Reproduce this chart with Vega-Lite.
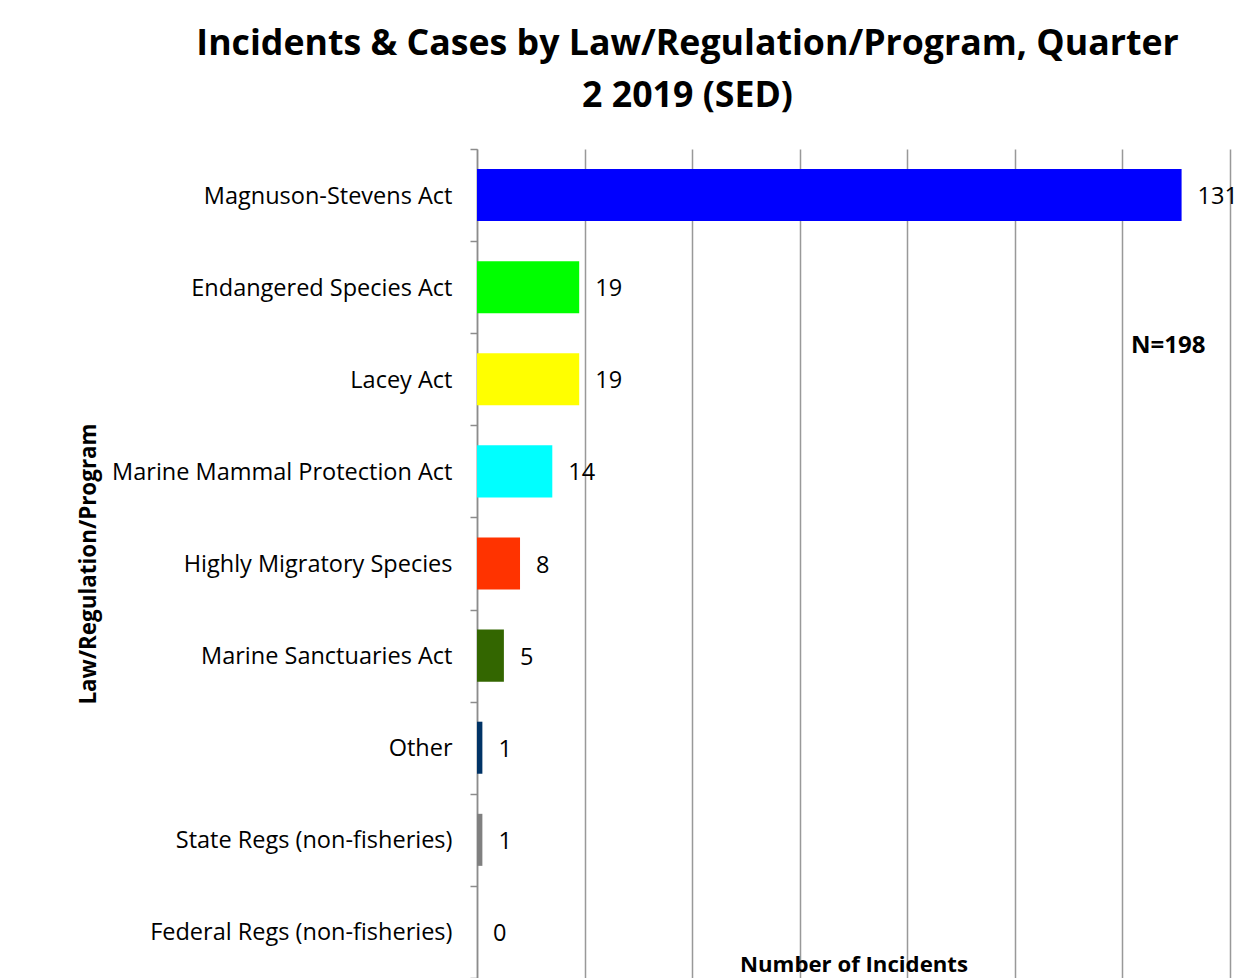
{
  "$schema": "https://vega.github.io/schema/vega-lite/v6.json",
  "autosize": {"type": "none"},
  "padding": {"left": 477, "top": 149, "right": 27, "bottom": 0},
  "width": 753,
  "height": 829,
  "background": "white",
  "config": {
    "font": "Open Sans",
    "view": {"stroke": null}
  },
  "title": {
    "text": ["Incidents & Cases by Law/Regulation/Program, Quarter", "2 2019 (SED)"],
    "fontSize": 35.7,
    "fontWeight": "bold",
    "color": "black",
    "anchor": "middle",
    "frame": "group",
    "dx": -166,
    "offset": 22,
    "lineHeight": 52
  },
  "data": {
    "values": [
      {"law": "Magnuson-Stevens Act", "count": 131},
      {"law": "Endangered Species Act ", "count": 19},
      {"law": "Lacey Act", "count": 19},
      {"law": "Marine Mammal Protection Act", "count": 14},
      {"law": "Highly Migratory Species", "count": 8},
      {"law": "Marine Sanctuaries Act", "count": 5},
      {"law": "Other", "count": 1},
      {"law": "State Regs (non-fisheries)", "count": 1},
      {"law": "Federal Regs (non-fisheries)", "count": 0}
    ]
  },
  "encoding": {
    "y": {
      "field": "law",
      "type": "nominal",
      "sort": null,
      "scale": {"paddingInner": 0, "paddingOuter": 0},
      "axis": {
        "title": "Law/Regulation/Program",
        "titleFontSize": 22.4,
        "titleFontWeight": "bold",
        "titleColor": "black",
        "titleX": -389,
        "titleAngle": -90,
        "titleAlign": "center",
        "titleBaseline": "middle",
        "labelFontSize": 23.5,
        "labelColor": "black",
        "labelPadding": 18,
        "labelOffset": 1,
        "labelLimit": 400,
        "tickBand": "extent",
        "tickSize": 7,
        "tickColor": "#8c8c8c",
        "tickWidth": 1.5,
        "domainColor": "#8c8c8c",
        "domainWidth": 1.5,
        "grid": false
      }
    },
    "x": {
      "field": "count",
      "type": "quantitative",
      "scale": {"domain": [0, 140], "nice": false},
      "axis": {
        "title": "Number of Incidents",
        "titleFontSize": 22.2,
        "titleFontWeight": "bold",
        "titleColor": "black",
        "titleY": -14,
        "titleBaseline": "middle",
        "values": [0, 20, 40, 60, 80, 100, 120, 140],
        "labels": false,
        "ticks": false,
        "domain": false,
        "grid": true,
        "gridColor": "#999999",
        "gridWidth": 1.5
      }
    }
  },
  "layer": [
    {
      "mark": {"type": "bar", "height": {"band": 0.565}},
      "encoding": {
        "color": {
          "field": "law",
          "type": "nominal",
          "legend": null,
          "scale": {
            "domain": ["Magnuson-Stevens Act", "Endangered Species Act ", "Lacey Act", "Marine Mammal Protection Act", "Highly Migratory Species", "Marine Sanctuaries Act", "Other", "State Regs (non-fisheries)", "Federal Regs (non-fisheries)"],
            "range": ["#0000ff", "#00ff00", "#ffff00", "#00ffff", "#ff3300", "#336600", "#003366", "#808080", "#a6a6a6"]
          }
        }
      }
    },
    {
      "mark": {"type": "text", "align": "left", "baseline": "middle", "dx": 16, "dy": 2, "fontSize": 23.5, "color": "black"},
      "encoding": {"text": {"field": "count", "type": "quantitative"}}
    },
    {
      "data": {"values": [{"note": "N=198", "law": "Lacey Act", "count": 121.6}]},
      "mark": {"type": "text", "align": "left", "baseline": "middle", "dy": -33, "fontSize": 24, "fontWeight": "bold", "color": "black"},
      "encoding": {
        "text": {"field": "note", "type": "nominal"}
      }
    }
  ]
}
